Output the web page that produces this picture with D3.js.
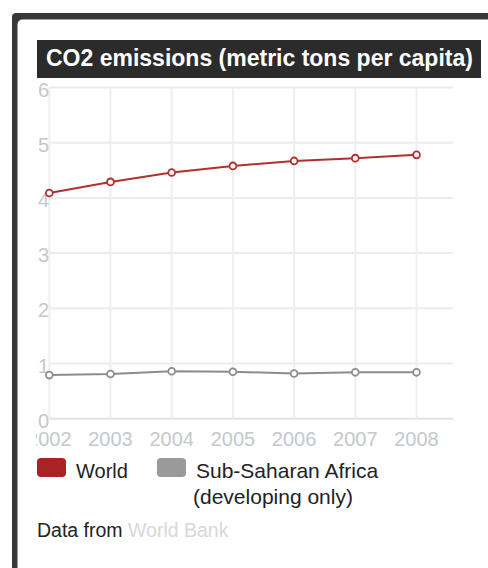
<!DOCTYPE html>
<html>
<head>
<meta charset="utf-8">
<script src="https://cdn.jsdelivr.net/npm/d3@7"></script>
<style>
  html, body { margin: 0; padding: 0; background: #fff; }
  svg { display: block; font-family: Arial, "Liberation Sans", sans-serif; }
</style>
</head>
<body>
<div id="chart"></div>
<script>
const years = [2002, 2003, 2004, 2005, 2006, 2007, 2008];
const worldValues = [4.09, 4.29, 4.46, 4.58, 4.67, 4.72, 4.78];
const ssaValues = [0.79, 0.81, 0.86, 0.85, 0.82, 0.84, 0.84];
const yTicks = [0, 1, 2, 3, 4, 5, 6];
const seriesNames = ['World', 'Sub-Saharan Africa'];

const W = 488;
const H = 568;

const svg = d3.select('#chart').append('svg')
    .attr('width', W)
    .attr('height', H);

// frame
svg.append('rect')
    .attr('x', 12).attr('y', 13)
    .attr('width', 520).attr('height', 620)
    .attr('rx', 4)
    .attr('fill', '#383838');
svg.append('rect')
    .attr('x', 17.5).attr('y', 19.5)
    .attr('width', 520).attr('height', 620)
    .attr('rx', 5)
    .attr('fill', '#fff');

// title
svg.append('rect')
    .attr('x', 37).attr('y', 40)
    .attr('width', 444).attr('height', 38)
    .attr('fill', '#2b2b2b');
svg.append('text')
    .attr('x', 46).attr('y', 66)
    .attr('fill', '#fff')
    .style('font-size', '23px')
    .style('font-weight', 'bold')
    .text('CO2 emissions (metric tons per capita)');

const x = d3.scaleLinear()
    .domain([2002, 2008])
    .range([49.3, 416.5]);

const y = d3.scaleLinear()
    .domain([0, 6])
    .range([418.7, 87.5]);

const gridRight = 453;

// grid
svg.append('g')
    .selectAll('line')
    .data(yTicks)
    .enter().append('line')
    .attr('x1', x(2002)).attr('x2', gridRight)
    .attr('y1', (d) => y(d)).attr('y2', (d) => y(d))
    .attr('stroke', (d) => (d === 0 ? '#e2e2e2' : '#ececec'))
    .attr('stroke-width', 2);

svg.append('g')
    .selectAll('line')
    .data(years)
    .enter().append('line')
    .attr('x1', (d) => x(d)).attr('x2', (d) => x(d))
    .attr('y1', y(6)).attr('y2', y(0))
    .attr('stroke', '#efefef')
    .attr('stroke-width', 2);

// y labels
svg.append('g')
    .selectAll('text')
    .data(yTicks)
    .enter().append('text')
    .attr('x', 49)
    .attr('y', (d) => y(d) + 9)
    .attr('text-anchor', 'end')
    .attr('fill', '#c4c8cc')
    .style('font-size', '20px')
    .text((d) => d);

// x labels, clipped on the left
svg.append('clipPath')
    .attr('id', 'xclip')
    .append('rect')
    .attr('x', 36).attr('y', 428)
    .attr('width', 450).attr('height', 30);

svg.append('g')
    .attr('clip-path', 'url(#xclip)')
    .selectAll('text')
    .data(years)
    .enter().append('text')
    .attr('x', (d) => x(d))
    .attr('y', 446)
    .attr('text-anchor', 'middle')
    .attr('fill', '#c4c8cc')
    .style('font-size', '20px')
    .text((d) => d);

// series
const series = [
    { name: seriesNames[0], values: worldValues, color: '#b03030' },
    { name: seriesNames[1], values: ssaValues, color: '#8c8c8c' },
];

const line = d3.line()
    .x((d, i) => x(years[i]))
    .y((d) => y(d));

series.forEach((s) => {
    svg.append('path')
        .datum(s.values)
        .attr('d', line)
        .attr('fill', 'none')
        .attr('stroke', s.color)
        .attr('stroke-width', 2);

    svg.append('g')
        .selectAll('circle')
        .data(s.values)
        .enter().append('circle')
        .attr('cx', (d, i) => x(years[i]))
        .attr('cy', (d) => y(d))
        .attr('r', 3.4)
        .attr('fill', '#fff')
        .attr('stroke', s.color)
        .attr('stroke-width', 1.8);
});

// legend
const legend = [
    { label: ['World'], color: '#a82424', x: 37, size: 20 },
    { label: ['Sub-Saharan Africa', '(developing only)'], color: '#9a9a9a', x: 157, size: 21 },
];

legend.forEach((l) => {
    svg.append('rect')
        .attr('x', l.x).attr('y', 458)
        .attr('width', 29).attr('height', 19)
        .attr('rx', 4)
        .attr('fill', l.color);
    const t = svg.append('text')
        .attr('fill', '#222')
        .style('font-size', `${l.size}px`);
    l.label.forEach((s, i) => {
        t.append('tspan')
            .attr('x', i === 0 ? l.x + 39 : l.x + 36)
            .attr('y', 478 + i * 26)
            .text(s);
    });
});

// source
const src = svg.append('text')
    .attr('x', 37).attr('y', 537)
    .style('font-size', '19.5px');
src.append('tspan').attr('fill', '#222').text('Data from ');
src.append('tspan').attr('fill', '#d8d8d8').text('World Bank');
</script>
</body>
</html>
